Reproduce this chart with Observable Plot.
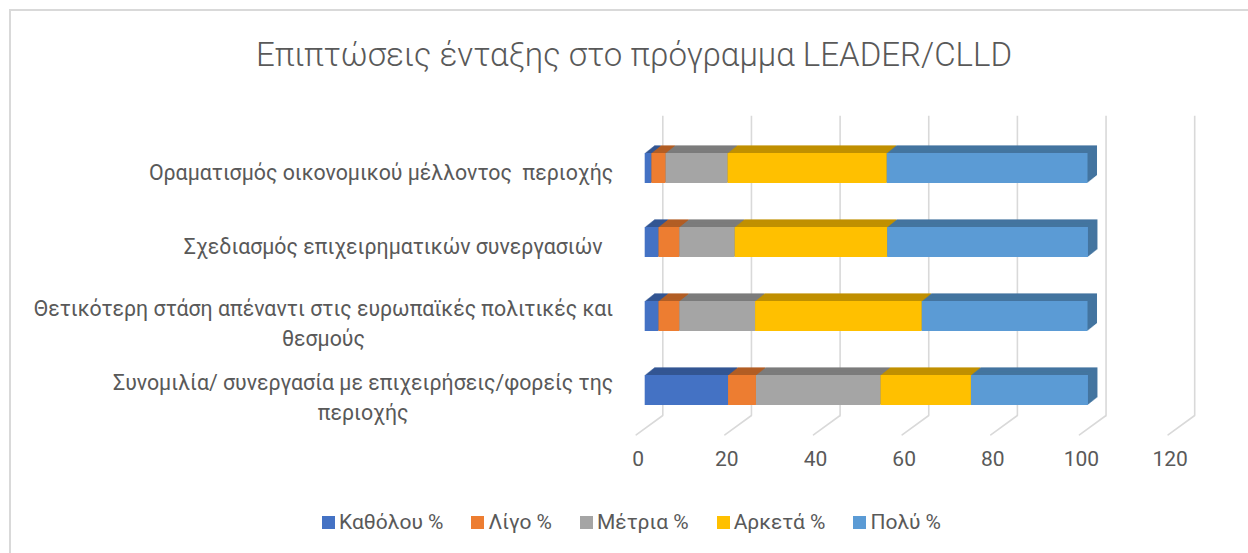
<!DOCTYPE html>
<html>
<head>
<meta charset="utf-8">
<script src="https://cdn.jsdelivr.net/npm/d3@7"></script>
<script src="https://cdn.jsdelivr.net/npm/@observablehq/plot@0.6"></script>
<style>
  html, body { margin: 0; padding: 0; background: #fff; overflow: hidden; }
  #wrap { position: relative; width: 1248px; height: 553px; overflow: hidden; font-family: Roboto, "Noto Sans", sans-serif; color: #595959; }
  #frame { position: absolute; left: 9px; top: 9px; width: 1260px; height: 570px; border: 2px solid #d9d9d9; box-sizing: border-box; }
  #title { position: absolute; left: 10px; width: 1248px; top: 35px; line-height: 40px; text-align: center; font-size: 33px; font-weight: 300; }
  #chart { position: absolute; left: 0; top: 100px; }
  #chart svg text { white-space: pre; }
  #legend { position: absolute; left: 15px; width: 1233px; top: 507px; height: 30px; display: flex; justify-content: center; align-items: center; gap: 28px; font-size: 21px; }
  .item { display: flex; align-items: center; }
  .sw { width: 13px; height: 13px; margin-right: 4px; }
</style>
</head>
<body>
<div id="wrap">
  <div id="frame"></div>
  <div id="title"></div>
  <div id="chart"></div>
  <div id="legend"></div>
</div>
<script>
const titleText = "Επιπτώσεις ένταξης στο πρόγραμμα LEADER/CLLD";
const categories = [
  "Οραματισμός οικονομικού μέλλοντος  περιοχής",
  "Σχεδιασμός επιχειρηματικών συνεργασιών  ",
  "Θετικότερη στάση απέναντι στις ευρωπαϊκές πολιτικές και θεσμούς",
  "Συνομιλία/ συνεργασία με επιχειρήσεις/φορείς της περιοχής"
];
const categoryLabels = [
  "Οραματισμός οικονομικού μέλλοντος  περιοχής",
  "Σχεδιασμός επιχειρηματικών συνεργασιών  ",
  "Θετικότερη στάση απέναντι στις ευρωπαϊκές πολιτικές και\nθεσμούς",
  "Συνομιλία/ συνεργασία με επιχειρήσεις/φορείς της\nπεριοχής"
];
const series = ["Καθόλου %", "Λίγο %", "Μέτρια %", "Αρκετά %", "Πολύ %"];
const seriesColors = ["#4472c4", "#ed7d31", "#a5a5a5", "#ffc000", "#5b9bd5"];
const katholou = [1.5, 3.1, 3.1, 18.8];
const ligo = [3.2, 4.7, 4.7, 6.3];
const metria = [14.0, 12.5, 17.1, 28.1];
const arketa = [35.9, 34.4, 37.6, 20.4];
const poly = [45.3, 45.3, 37.4, 26.4];
const xTicks = [0, 20, 40, 60, 80, 100, 120];

const seriesValues = [katholou, ligo, metria, arketa, poly];
const rows = [];
series.forEach((s, j) => categories.forEach((c, i) => rows.push({cat: c, series: s, value: seriesValues[j][i]})));
const front = Object.fromEntries(series.map((s, j) => [s, seriesColors[j]]));
const top3d = Object.fromEntries(series.map((s, j) => [s, d3.color(seriesColors[j]).darker(0.8).formatHex()]));

document.getElementById("title").textContent = titleText;

const FONT = "Roboto, 'Noto Sans', sans-serif";
const labelSize = 21.3;
const ctx = document.createElement("canvas").getContext("2d");
ctx.font = `${labelSize}px Roboto`;
const blockWidth = (label) => Math.max(...label.split("\n").map(l => ctx.measureText(l).width));

const lineShape = { draw(context, l) { context.moveTo(0, 0); context.lineTo(0, -l); } };

const depthLayers = [];
for (let i = 10; i >= 1; i--) {
  depthLayers.push(Plot.barX(rows, Plot.stackX({x: "value", y: "cat", fill: d => top3d[d.series], dx: i * 0.95, dy: -i * 0.76})));
}

const labelMarks = categories.map((c, i) => Plot.text([c], {
  y: d => d, frameAnchor: "left", text: () => categoryLabels[i],
  textAnchor: "middle", dx: -32 - blockWidth(categoryLabels[i]) / 2, dy: categoryLabels[i].includes("\n") ? 5 : 2,
  fontSize: labelSize, lineHeight: 1.38, fill: "#595959"
}));

const chart = Plot.plot({
  width: 1248,
  height: 390,
  marginLeft: 644.7,
  marginRight: 71.4,
  marginTop: 15.7,
  marginBottom: 75,
  x: {domain: [0, 120], axis: null},
  y: {domain: categories, range: [30, 328], paddingInner: 0.6, paddingOuter: 0.3, axis: null},
  color: {type: "identity"},
  style: {fontFamily: FONT, color: "#595959", background: "transparent"},
  marks: [
    Plot.ruleX(xTicks, {x: d => d, dx: 17.6, stroke: "#d9d9d9", strokeWidth: 1.6}),
    Plot.vector(xTicks, {x: d => d, frameAnchor: "bottom", dx: 17.6, anchor: "start", length: 32.9, rotate: 234, shape: lineShape, stroke: "#d9d9d9", strokeWidth: 1.6}),
    ...depthLayers,
    Plot.barX(rows, Plot.stackX({x: "value", y: "cat", fill: d => front[d.series]})),
    ...labelMarks,
    Plot.text(xTicks, {x: d => d, frameAnchor: "bottom", dx: -7, dy: 50, text: d => String(d), fontSize: 21, fill: "#595959"})
  ]
});
document.getElementById("chart").appendChild(chart);

const legend = document.getElementById("legend");
series.forEach((s, j) => {
  const it = document.createElement("div");
  it.className = "item";
  const sw = document.createElement("div");
  sw.className = "sw";
  sw.style.background = seriesColors[j];
  const tx = document.createElement("span");
  tx.textContent = s;
  it.appendChild(sw);
  it.appendChild(tx);
  legend.appendChild(it);
});
</script>
</body>
</html>
